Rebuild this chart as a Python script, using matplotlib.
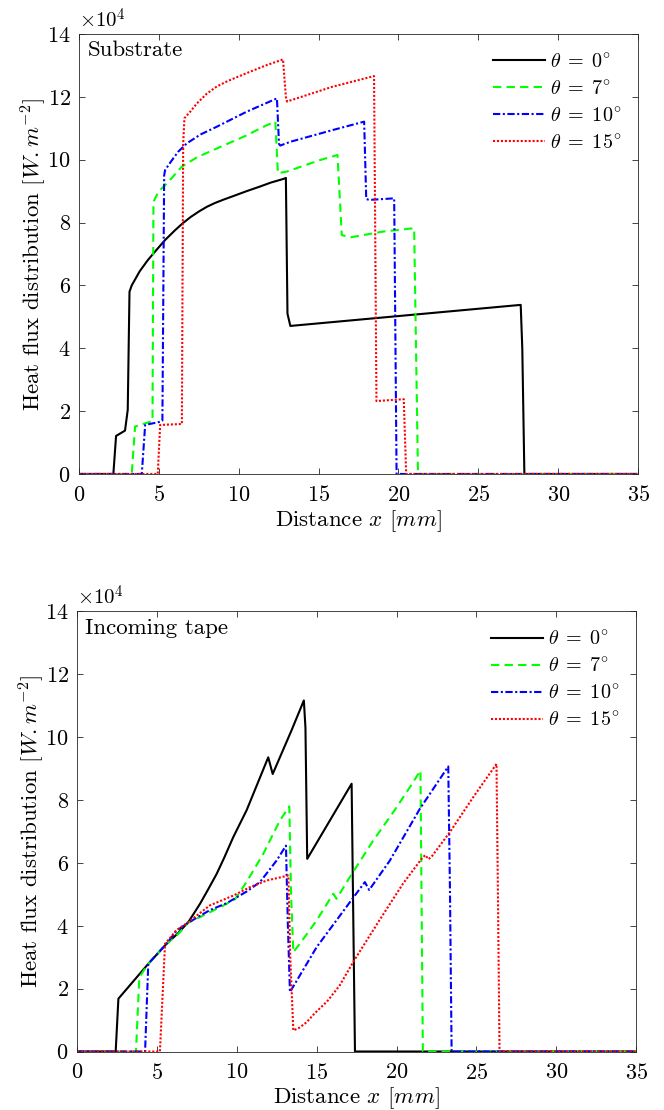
import matplotlib
matplotlib.use("Agg")
import matplotlib.pyplot as plt

plt.rcParams['font.family'] = 'serif'
plt.rcParams['font.serif'] = ['cmr10']
plt.rcParams['mathtext.fontset'] = 'cm'
plt.rcParams['axes.formatter.use_mathtext'] = True
plt.rcParams['font.size'] = 16

# heat flux values in units of 1e4 W/m^2, distance in mm
angles = [0, 7, 10, 15]

# substrate
x_sub_0 = [0, 2.15, 2.32, 2.88, 3.05, 3.16, 3.3, 3.8, 4.3, 4.8, 5.4, 6.0, 6.5, 7.0, 7.5, 8.0,
           8.5, 9.0, 9.7, 10.5, 11.3, 12.0, 12.81, 12.95, 13.05, 13.23, 27.65, 27.75, 27.88, 35]
y_sub_0 = [0, 0, 1.21, 1.38, 2.04, 5.8, 6.0, 6.45, 6.8, 7.1, 7.45, 7.75, 7.98, 8.18, 8.35, 8.5,
           8.62, 8.72, 8.85, 9.0, 9.14, 9.27, 9.39, 9.42, 5.1, 4.71, 5.38, 4.0, 0, 0]
x_sub_7 = [0, 3.3, 3.51, 4.45, 4.6, 4.66, 4.97, 5.6, 6.44, 7.4, 8.42, 10.3, 11.77, 12.29, 12.45,
           13.0, 15.1, 15.86, 16.18, 16.45, 17.0, 19.0, 20.98, 21.22, 35]
y_sub_7 = [0, 0, 1.51, 1.66, 1.68, 8.66, 8.98, 9.3, 9.78, 10.08, 10.31, 10.73, 11.1, 11.21, 9.57,
           9.62, 9.99, 10.1, 10.15, 7.6, 7.53, 7.71, 7.82, 0, 0]
x_sub_10 = [0, 3.93, 4.14, 5.08, 5.22, 5.33, 5.39, 5.7, 6.2, 6.75, 7.6, 8.63, 10.51, 12.39, 12.52,
            12.6, 13.23, 15.86, 17.85, 17.98, 18.16, 19.73, 19.88, 35]
y_sub_10 = [0, 0, 1.56, 1.66, 1.7, 9.5, 9.67, 9.9, 10.25, 10.52, 10.8, 11.05, 11.53, 11.95, 10.5,
            10.45, 10.57, 10.94, 11.21, 8.75, 8.72, 8.77, 0, 0]
x_sub_15 = [0, 4.93, 5.08, 6.44, 6.52, 6.6, 7.0, 7.38, 8.0, 8.63, 9.3, 10.0, 10.72, 11.7, 12.77,
            12.95, 13.02, 15.86, 18.47, 18.62, 20.33, 20.48, 35]
y_sub_15 = [0, 0, 1.56, 1.59, 10.5, 11.32, 11.55, 11.79, 12.1, 12.33, 12.5, 12.65, 12.8, 13.0,
            13.19, 12.0, 11.85, 12.32, 12.66, 2.32, 2.38, 0, 0]

# incoming tape
x_tape_0 = [0, 2.42, 2.59, 4.46, 5.61, 6.3, 6.97, 7.3, 7.70, 8.2, 8.74, 9.2, 9.78, 10.62, 11.97,
            12.25, 13.43, 14.2, 14.3, 14.41, 17.19, 17.3, 17.4, 35]
y_tape_0 = [0, 0, 1.68, 2.79, 3.43, 3.75, 4.12, 4.38, 4.70, 5.15, 5.65, 6.15, 6.82, 7.68, 9.36,
            8.83, 10.22, 11.17, 10.3, 6.13, 8.52, 4.0, 0, 0]
x_tape_7 = [0, 3.69, 3.9, 4.46, 5.61, 6.34, 6.97, 8.32, 9.37, 9.9, 10.62, 11.66, 12.70, 13.29,
            13.4, 13.54, 13.95, 15.0, 16.04, 16.25, 17.08, 18.54, 19.79, 20.84, 21.5, 21.65, 35]
y_tape_7 = [0, 0, 2.36, 2.79, 3.43, 3.74, 4.1, 4.43, 4.7, 4.85, 5.4, 6.29, 7.35, 7.80,
            5.0, 3.16, 3.43, 4.17, 5.02, 4.86, 5.55, 6.71, 7.61, 8.41, 8.94, 0, 0]
x_tape_10 = [0, 4.26, 4.46, 5.61, 6.24, 6.97, 8.32, 9.37, 10.62, 11.45, 12.5, 13.08, 13.2, 13.33,
             15.0, 17.08, 18.02, 18.29, 19.59, 21.46, 23.24, 23.35, 23.45, 35]
y_tape_10 = [0, 0, 2.79, 3.43, 3.85, 4.1, 4.5, 4.72, 5.09, 5.39, 6.08, 6.55, 4.0, 1.89,
             3.32, 4.75, 5.39, 5.14, 6.08, 7.72, 9.07, 5.0, 0, 0]
x_tape_15 = [0, 5.19, 5.51, 5.8, 6.2, 6.97, 8.32, 9.78, 10.83, 11.87, 13.23, 13.35, 13.54, 13.9,
             14.37, 14.85, 15.3, 15.7, 16.44, 17.29, 18.96, 20.42, 21.57, 21.8, 22.0, 22.2,
             23.34, 24.8, 26.26, 26.35, 26.45, 35]
y_tape_15 = [0, 0, 3.43, 3.6, 3.85, 4.12, 4.65, 4.96, 5.23, 5.44, 5.6, 3.0, 0.67, 0.75,
             0.93, 1.2, 1.42, 1.62, 2.1, 2.85, 4.2, 5.35, 6.13, 6.25, 6.12, 6.2,
             6.98, 8.09, 9.15, 5.0, 0, 0]

sub_series = [(x_sub_0, y_sub_0), (x_sub_7, y_sub_7), (x_sub_10, y_sub_10), (x_sub_15, y_sub_15)]
tape_series = [(x_tape_0, y_tape_0), (x_tape_7, y_tape_7), (x_tape_10, y_tape_10),
               (x_tape_15, y_tape_15)]

colors = ['k', (0, 1, 0), (0, 0, 1), (1, 0, 0)]
dashes = [None, (4, 2.5), (3.5, 1.2, 1, 1.2), (1, 0.9)]
spine_col = '#262626'


def draw_panel(ax, series, name):
    for (xs, ys), c, d, a in zip(series, colors, dashes, angles):
        line, = ax.plot(xs, ys, color=c, lw=1.5, label=r'$\theta\;=\;%d^{\circ}$' % a)
        if d is not None:
            line.set_dashes(d)
    ax.set_xlim(0, 35)
    ax.set_ylim(0, 14)
    ax.set_xticks(range(0, 36, 5))
    ax.set_yticks(range(0, 15, 2))
    ax.tick_params(direction='in', top=True, right=True, length=4, width=0.6,
                   color=spine_col, labelsize=16)
    ax.tick_params(axis='x', pad=8)
    ax.tick_params(axis='y', pad=6)
    for s in ax.spines.values():
        s.set_color(spine_col)
        s.set_linewidth(0.6)
    ax.set_xlabel(r'Distance $x$ $[mm]$', fontsize=16.5, labelpad=2)
    ax.set_ylabel(r'Heat flux distribution $[W.m^{-2}]$', fontsize=16.5, labelpad=-1)
    ax.text(0.0, 1.005, r'$\times10^{4}$', transform=ax.transAxes, fontsize=15,
            ha='left', va='bottom')
    ax.text(0.015, 0.985, name, transform=ax.transAxes, fontsize=16.5, ha='left', va='top')
    ax.legend(loc='upper right', frameon=False, fontsize=14.5, handlelength=2.6,
              handletextpad=0.25, labelspacing=0.4, borderaxespad=0.3,
              bbox_to_anchor=(0.995, 0.99))


fig = plt.figure(figsize=(6.64, 11.10), dpi=100)
ax1 = fig.add_axes([0.119, 0.573, 0.842, 0.3964])
ax2 = fig.add_axes([0.116, 0.0527, 0.842, 0.3964])

draw_panel(ax1, sub_series, 'Substrate')
draw_panel(ax2, tape_series, 'Incoming tape')

fig.savefig('out.png', dpi=100)
